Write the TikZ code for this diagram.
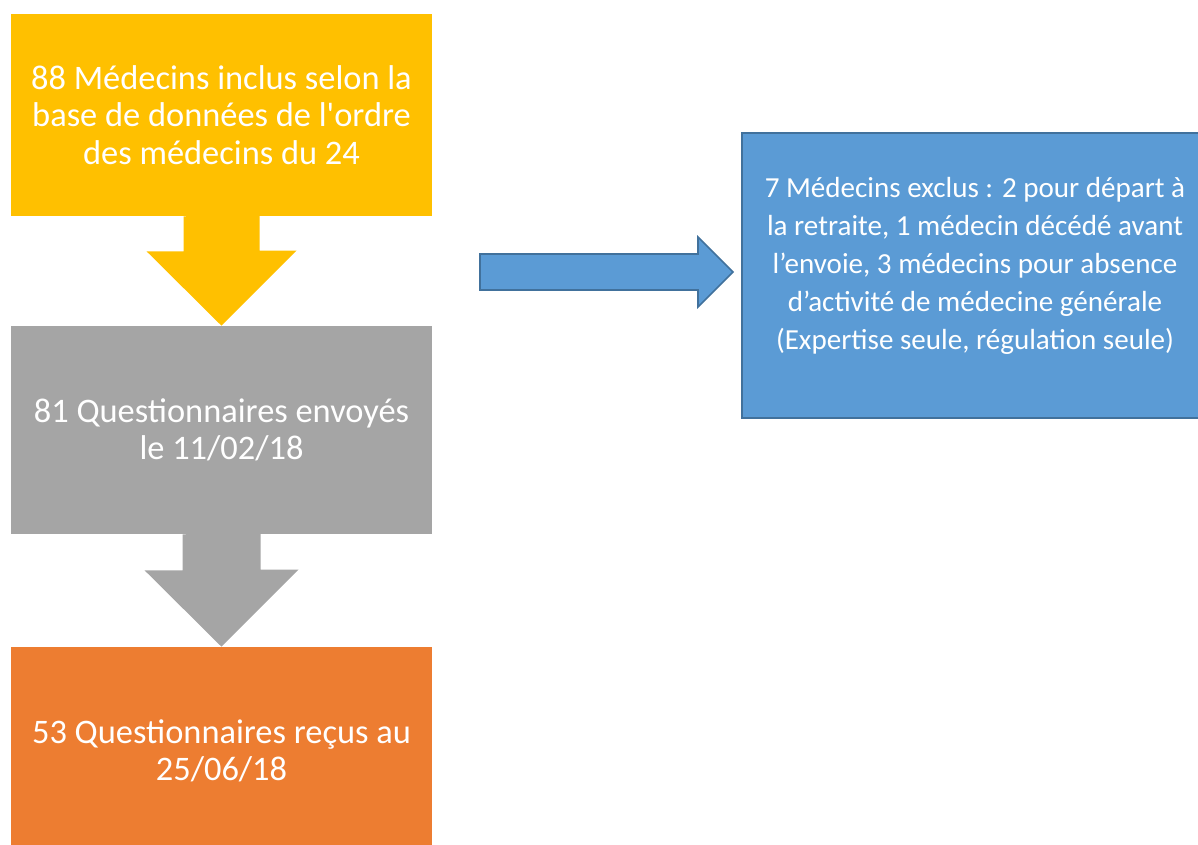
\documentclass[tikz,border=0pt]{standalone}
\usepackage{fontspec}
\setmainfont{Carlito}[Ligatures=TeXOff]
\usetikzlibrary{calc}

\definecolor{incl}{HTML}{FFC000}
\definecolor{envoi}{HTML}{A5A5A5}
\definecolor{recu}{HTML}{ED7D31}
\definecolor{excl}{HTML}{5B9BD5}
\definecolor{exclline}{HTML}{41719C}

\tikzset{
  stepbox/.style={minimum width=315.75pt, minimum height=#1, inner sep=0pt,
    text=white, align=center, font=\fontsize{25.8}{28.2}\selectfont},
  txt/.style={text=white, align=center, inner sep=0pt, font=\fontsize{21.8}{28.5}\selectfont}
}

\begin{document}
\begin{tikzpicture}[x=0.75pt,y=-0.75pt]
\useasboundingbox (0,0) rectangle (1198,845);

\node[stepbox=151.5pt, fill=incl] (b1) at (221.5,115) {88 Médecins inclus selon la\\base de données de l'ordre\\des médecins du 24};
\node[stepbox=156pt, fill=envoi] (b2) at (221.5,430) {81 Questionnaires envoyés\\le 11/02/18};
\node[stepbox=156pt, fill=recu] (b3) at (221.5,751) {53 Questionnaires reçus au\\25/06/18};

\filldraw[exclline, fill=excl, line width=1.5] (742,133) rectangle (1200,418);
\coordinate (ex) at (742,272);
\node[txt] (extxt) at (975,266) {7 Médecins exclus : 2 pour départ à\\la retraite, 1 médecin décédé avant\\l’envoie, 3 médecins pour absence\\d’activité de médecine générale\\(Expertise seule, régulation seule)};

% fleches
\fill[incl] ($(b1.south)+(-38,0)$) -- ++(0,35) -- ++(-37,0) -- (b2.north)
  -- ++(75,-75) -- ++(-37,0) -- ++(0,-35) -- cycle;
\fill[envoi] ($(b2.south)+(-39,0)$) -- ++(0,36) -- ++(-38,0) -- (b3.north)
  -- ++(77,-77) -- ++(-38,0) -- ++(0,-36) -- cycle;

\coordinate (a0) at (480,272);
\filldraw[exclline, fill=excl, line width=1.2] (a0) ++(0,-18) -- ++(218,0) -- ++(0,-17)
  -- ($(ex)+(-9,0)$) -- (698,307) -- ++(0,-17) -- ++(-218,0) -- cycle;
\end{tikzpicture}
\end{document}
